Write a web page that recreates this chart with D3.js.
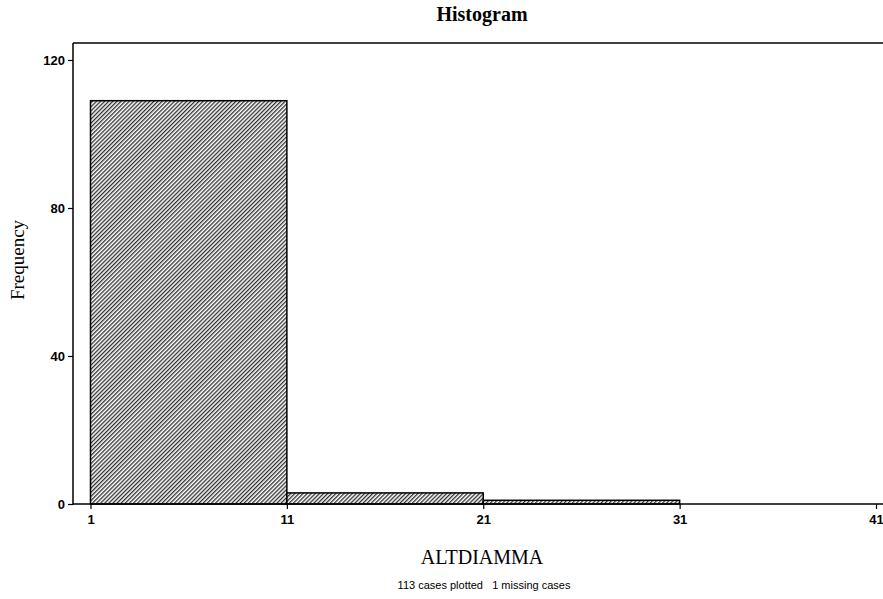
<!DOCTYPE html>
<html>
<head>
<meta charset="utf-8">
<script src="https://cdn.jsdelivr.net/npm/d3@7"></script>
<style>
  html, body { margin: 0; padding: 0; background: #fff; }
  svg { display: block; }
</style>
</head>
<body>
<svg id="chart" width="883" height="599"></svg>
<script>
// ---- data ----
const binStarts = [1, 11, 21, 31];
const binEnds = [11, 21, 31, 41];
const frequencies = [109, 3, 1, 0];
const xTicks = [1, 11, 21, 31, 41];
const yTicks = [0, 40, 80, 120];
const titleText = "Histogram";
const xLabel = "ALTDIAMMA";
const yLabel = "Frequency";
const footerText = "113 cases plotted   1 missing cases";

const svg = d3.select("#chart");
const W = 883, H = 599;

const axisX = 73, frameTop = 43, baseY = 504;
const x = d3.scaleLinear().domain([1, 41]).range([90.5, 876]);
const y = d3.scaleLinear().domain([0, 120]).range([baseY, 60]);

// hatch pattern
const defs = svg.append("defs");
const pat = defs.append("pattern")
  .attr("id", "hatch")
  .attr("patternUnits", "userSpaceOnUse")
  .attr("width", 2.9).attr("height", 2.9)
  .attr("patternTransform", "rotate(45)");
pat.append("rect").attr("width", 2.9).attr("height", 2.9).attr("fill", "#fff");
pat.append("line").attr("x1", 0.7).attr("y1", 0).attr("x2", 0.7).attr("y2", 2.9)
  .attr("stroke", "#111").attr("stroke-width", 1.15);

// frame top line
svg.append("line")
  .attr("x1", axisX).attr("x2", W).attr("y1", frameTop).attr("y2", frameTop)
  .attr("stroke", "#000").attr("stroke-width", 1.5);

// bars
const bins = binStarts.map((s, i) => ({ s, e: binEnds[i], f: frequencies[i] }));
svg.append("g").selectAll("rect")
  .data(bins.filter(d => d.f > 0))
  .join("rect")
  .attr("x", d => x(d.s))
  .attr("y", d => y(d.f))
  .attr("width", d => x(d.e) - x(d.s))
  .attr("height", d => y(0) - y(d.f))
  .attr("fill", "url(#hatch)")
  .attr("stroke", "#000")
  .attr("stroke-width", 1.5);

// y axis
const yAxis = d3.axisLeft(y).tickValues(yTicks).tickSize(5).tickPadding(3).tickFormat(d3.format("d"));
const gy = svg.append("g").attr("transform", `translate(${axisX},0)`).call(yAxis);
gy.select(".domain").remove();
gy.selectAll("line").attr("stroke", "#000").attr("stroke-width", 1.2);
gy.selectAll("text")
  .attr("font-family", "Liberation Sans, Arial, sans-serif")
  .attr("font-size", 13).attr("font-weight", "bold").attr("fill", "#000");
svg.append("line")
  .attr("x1", axisX).attr("x2", axisX).attr("y1", frameTop).attr("y2", baseY + 1)
  .attr("stroke", "#000").attr("stroke-width", 1.5);

// x axis
const xAxis = d3.axisBottom(x).tickValues(xTicks).tickSize(5).tickPadding(6).tickFormat(d3.format("d"));
const gx = svg.append("g").attr("transform", `translate(0,${baseY})`).call(xAxis);
gx.select(".domain").remove();
gx.selectAll("line").attr("stroke", "#000").attr("stroke-width", 1.2);
gx.selectAll("text")
  .attr("font-family", "Liberation Sans, Arial, sans-serif")
  .attr("font-size", 13).attr("font-weight", "bold").attr("fill", "#000");
svg.append("line")
  .attr("x1", axisX).attr("x2", W).attr("y1", baseY).attr("y2", baseY)
  .attr("stroke", "#000").attr("stroke-width", 1.5);

// title
svg.append("text")
  .attr("x", 482).attr("y", 21)
  .attr("text-anchor", "middle")
  .attr("font-family", "Liberation Serif, Times New Roman, serif")
  .attr("font-size", 20).attr("font-weight", "bold")
  .text(titleText);

// y label
svg.append("text")
  .attr("transform", "translate(24,260) rotate(-90)")
  .attr("text-anchor", "middle")
  .attr("font-family", "Liberation Serif, Times New Roman, serif")
  .attr("font-size", 19)
  .text(yLabel);

// x label
svg.append("text")
  .attr("x", 482).attr("y", 564)
  .attr("text-anchor", "middle")
  .attr("font-family", "Liberation Serif, Times New Roman, serif")
  .attr("font-size", 20)
  .text(xLabel);

// footer
svg.append("text")
  .attr("x", 484).attr("y", 589)
  .attr("text-anchor", "middle")
  .attr("font-family", "Liberation Sans, Arial, sans-serif")
  .attr("font-size", 11)
  .attr("xml:space", "preserve")
  .style("white-space", "pre")
  .text(footerText);
</script>
</body>
</html>
